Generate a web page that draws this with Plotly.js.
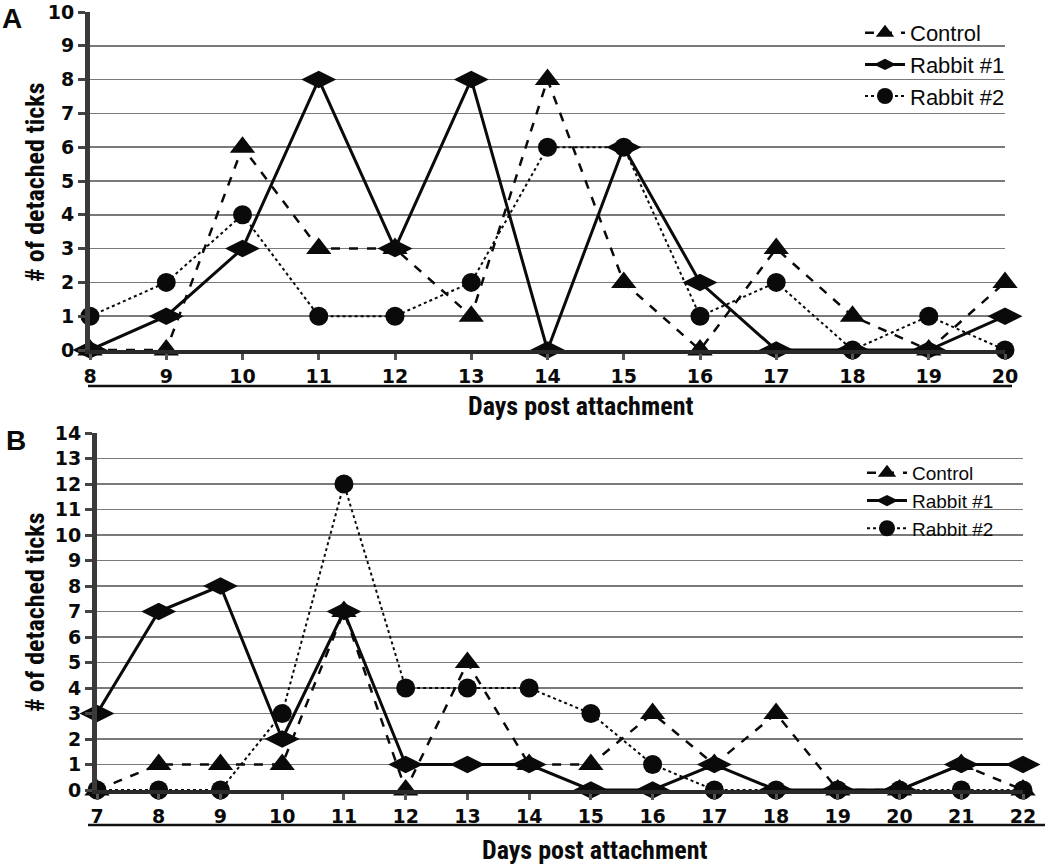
<!DOCTYPE html>
<html>
<head>
<meta charset="utf-8">
<script src="https://cdn.plot.ly/plotly-3.0.1.min.js"></script>
<style>
  html, body { margin: 0; padding: 0; background: #fff; }
  #chart { width: 1050px; height: 864px; }
</style>
</head>
<body>
<div id="chart"></div>
<script>
// ---------- Panel A data ----------
var daysA = [8, 9, 10, 11, 12, 13, 14, 15, 16, 17, 18, 19, 20];
var controlA = [0, 0, 6, 3, 3, 1, 8, 2, 0, 3, 1, 0, 2];
var rabbit1A = [0, 1, 3, 8, 3, 8, 0, 6, 2, 0, 0, 0, 1];
var rabbit2A = [1, 2, 4, 1, 1, 2, 6, 6, 1, 2, 0, 1, 0];

// ---------- Panel B data ----------
var daysB = [7, 8, 9, 10, 11, 12, 13, 14, 15, 16, 17, 18, 19, 20, 21, 22];
var controlB = [0, 1, 1, 1, 7, 0, 5, 1, 1, 3, 1, 3, 0, 0, 1, 0];
var rabbit1B = [3, 7, 8, 2, 7, 1, 1, 1, 0, 0, 1, 0, 0, 0, 1, 1];
var rabbit2B = [0, 0, 0, 3, 12, 4, 4, 4, 3, 1, 0, 0, 0, 0, 0, 0];

var seriesNames = ['Control', 'Rabbit #1', 'Rabbit #2'];
var yTicksA = [0, 1, 2, 3, 4, 5, 6, 7, 8, 9, 10];
var yTicksB = [0, 1, 2, 3, 4, 5, 6, 7, 8, 9, 10, 11, 12, 13, 14];
var xTitle = 'Days post attachment';
var yTitle = '# of detached ticks';

var W = 1050, H = 864;
function px(x) { return x / W; }
function py(y) { return 1 - y / H; }

var ink = '#0a0a0a';
var styles = [
  {dash: 'dash', width: 2.5, symbol: 'triangle-up', size: 22},
  {dash: 'solid', width: 3, symbol: 'diamond-wide', size: 25},
  {dash: 'dot', width: 2, symbol: 'circle', size: 19}
];

function mk(x, y, i, xa, ya, leg) {
  var s = styles[i];
  return {
    type: 'scatter', mode: 'lines+markers',
    x: x, y: y, xaxis: xa, yaxis: ya, name: seriesNames[i], legend: leg,
    line: {color: ink, width: s.width, dash: s.dash},
    marker: {symbol: s.symbol, size: s.size, color: ink, line: {width: 0}},
    cliponaxis: false
  };
}

var traces = [
  mk(daysA, controlA, 0, 'x', 'y', 'legend'),
  mk(daysA, rabbit1A, 1, 'x', 'y', 'legend'),
  mk(daysA, rabbit2A, 2, 'x', 'y', 'legend'),
  mk(daysB, controlB, 0, 'x2', 'y2', 'legend2'),
  mk(daysB, rabbit1B, 1, 'x2', 'y2', 'legend2'),
  mk(daysB, rabbit2B, 2, 'x2', 'y2', 'legend2')
];

var tickFont = {family: "'DejaVu Sans', Verdana, sans-serif", size: 19, color: ink, weight: 'bold'};
var titleFont = {family: "'Liberation Sans Narrow', 'Arial Narrow', 'Roboto Condensed', 'Liberation Sans', sans-serif", size: 26, color: ink, weight: 'bold'};

function xaxisDef(vals, domain, anchor) {
  return {
    domain: domain, anchor: anchor,
    range: [vals[0], vals[vals.length - 1]],
    tickvals: vals, ticktext: vals.map(String),
    showgrid: false, zeroline: false,
    showline: true, linecolor: '#2a2a2a', linewidth: 4,
    ticks: 'outside', ticklen: 6, tickwidth: 3, tickcolor: '#555',
    tickfont: tickFont, fixedrange: true
  };
}
function yaxisDef(vals, domain, anchor) {
  return {
    domain: domain, anchor: anchor,
    range: [vals[0], vals[vals.length - 1]],
    tickvals: vals, ticktext: vals.map(String),
    showgrid: true, gridcolor: '#7a7a7a', gridwidth: 1.5,
    zeroline: false,
    showline: true, linecolor: '#3a3a3a', linewidth: 5,
    ticks: 'outside', ticklen: 7, tickwidth: 3, tickcolor: '#444',
    tickfont: tickFont, fixedrange: true
  };
}

var legendFont = {family: "'Liberation Sans', Arial, sans-serif", color: ink};

var layout = {
  width: W, height: H,
  margin: {l: 0, r: 0, t: 0, b: 0},
  paper_bgcolor: '#fff', plot_bgcolor: '#fff',
  showlegend: true,
  xaxis: xaxisDef(daysA, [px(90), px(1005)], 'y'),
  yaxis: yaxisDef(yTicksA, [py(350), py(12)], 'x'),
  xaxis2: xaxisDef(daysB, [px(97), px(1023)], 'y2'),
  yaxis2: yaxisDef(yTicksB, [py(790), py(433)], 'x2'),
  legend: {
    x: px(860), y: py(12), xanchor: 'left', yanchor: 'top',
    bgcolor: 'rgba(0,0,0,0)', borderwidth: 0,
    font: Object.assign({size: 22}, legendFont),
    itemwidth: 40, tracegroupgap: 0
  },
  legend2: {
    x: px(862), y: py(454), xanchor: 'left', yanchor: 'top',
    bgcolor: 'rgba(0,0,0,0)', borderwidth: 0,
    font: Object.assign({size: 19}, legendFont),
    itemwidth: 40, tracegroupgap: 0
  },
  shapes: [
    {type: 'line', xref: 'paper', yref: 'paper', x0: px(88), x1: px(1012), y0: py(386), y1: py(386),
     line: {color: '#111', width: 2.5}},
    {type: 'line', xref: 'paper', yref: 'paper', x0: px(88), x1: px(1045), y0: py(825), y1: py(825),
     line: {color: '#111', width: 2.5}}
  ],
  annotations: [
    {text: 'A', xref: 'paper', yref: 'paper', x: px(0), y: py(18), xanchor: 'left', yanchor: 'middle',
     showarrow: false, font: {family: "'Liberation Sans Narrow', 'Liberation Sans', sans-serif", size: 28, color: ink, weight: 'bold'}},
    {text: 'B', xref: 'paper', yref: 'paper', x: px(4), y: py(440), xanchor: 'left', yanchor: 'middle',
     showarrow: false, font: {family: "'Liberation Sans Narrow', 'Liberation Sans', sans-serif", size: 28, color: ink, weight: 'bold'}},
    {text: xTitle, xref: 'paper', yref: 'paper', x: px(580), y: py(406), xanchor: 'center', yanchor: 'middle',
     showarrow: false, font: titleFont},
    {text: xTitle, xref: 'paper', yref: 'paper', x: px(594), y: py(850), xanchor: 'center', yanchor: 'middle',
     showarrow: false, font: titleFont},
    {text: yTitle, xref: 'paper', yref: 'paper', x: px(35), y: py(182), xanchor: 'center', yanchor: 'middle',
     textangle: -90, showarrow: false, font: titleFont},
    {text: yTitle, xref: 'paper', yref: 'paper', x: px(35), y: py(612), xanchor: 'center', yanchor: 'middle',
     textangle: -90, showarrow: false, font: titleFont}
  ]
};

Plotly.newPlot('chart', traces, layout, {displayModeBar: false, staticPlot: true});
</script>
</body>
</html>
